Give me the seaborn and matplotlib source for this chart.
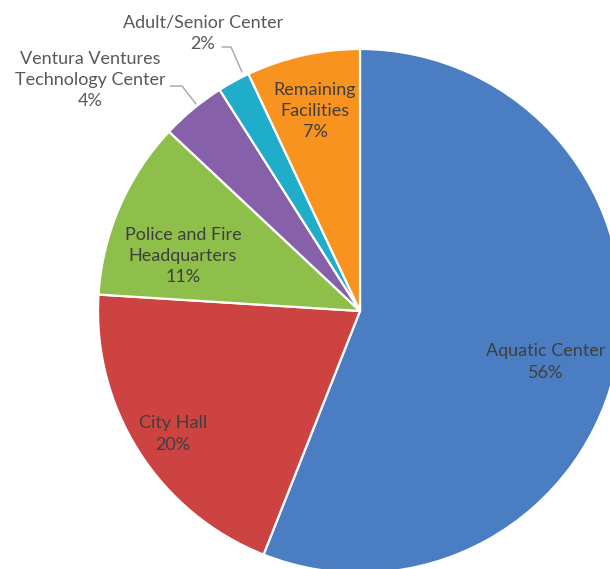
import matplotlib
matplotlib.use("Agg")
import matplotlib.pyplot as plt
import seaborn as sns

sns.set_theme(style="white")
plt.rcParams["font.family"] = ["Lato", "DejaVu Sans"]

# Share of facility costs by building
facilities = ["Aquatic Center", "City Hall", "Police and Fire\nHeadquarters",
              "Ventura Ventures\nTechnology Center", "Adult/Senior Center",
              "Remaining\nFacilities"]
shares = [56, 20, 11, 4, 2, 7]
colors = ["#4A7DC1", "#CC4342", "#8FBF4B", "#8660A8", "#20ADCA", "#F7931E"]

W, H = 610, 569
CX, CY, R = 360, 311, 262  # pie centre and radius in pixels


def px(x, y):
    """Pixel position (from top-left) to pie data coordinates."""
    return (x - CX) / R, (CY - y) / R


fig = plt.figure(figsize=(W / 100, H / 100), dpi=100)
ax = fig.add_axes([0, 0, 1, 1])

wedges, _ = ax.pie(
    shares, colors=sns.color_palette(colors), startangle=90, counterclock=False,
    radius=1.0, wedgeprops=dict(edgecolor="white", linewidth=1.6),
)

ax.set_xlim(-CX / R, (W - CX) / R)
ax.set_ylim(-(H - CY) / R, CY / R)
ax.set_aspect("auto")
ax.axis("off")

# label placement (pixel centres) and whether the label sits inside the slice
label_pos = [(546, 362, True), (173, 434, True), (183, 256, True),
             (90, 80, False), (203, 33, False), (315, 111, True)]

for name, val, (lx, ly, inside) in zip(facilities, shares, label_pos):
    x, y = px(lx, ly)
    ax.text(x, y, f"{name}\n{val}%", ha="center", va="center",
            fontsize=13, linespacing=1.4,
            color="#3F3F3F" if inside else "#595959")

# leader lines for the two small outside labels
leaders = [[(170, 86), (182, 86), (196, 104)],
           [(222, 47), (231, 47), (242, 72)]]
for pts in leaders:
    xs, ys = zip(*[px(*p) for p in pts])
    ax.plot(xs, ys, color="#A6A6A6", lw=1.0)

fig.savefig("out.png", dpi=100, facecolor="white")
